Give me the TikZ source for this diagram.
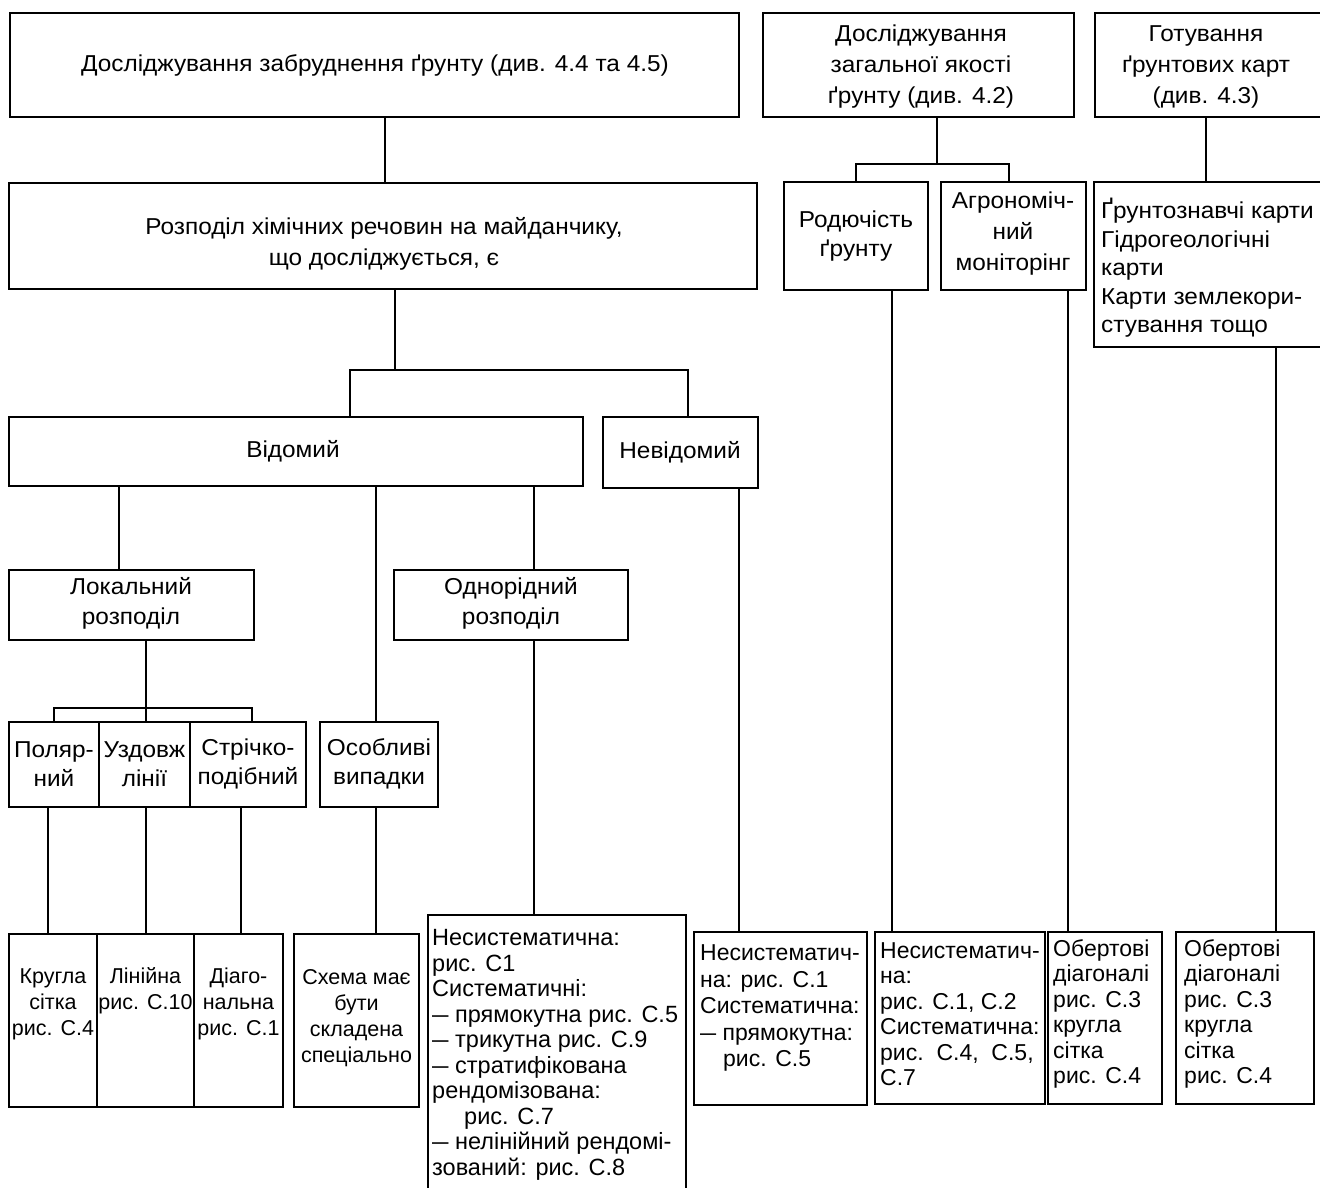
\documentclass[tikz,border=0pt]{standalone}
\usepackage{fontspec}
\setmainfont{Liberation Sans}
\newfontfamily\wide[FakeStretch=1.06]{Liberation Sans}
\usepackage{graphicx}
\usetikzlibrary{fit}
\newcommand\md{\scalebox{0.7}[1]{—}}
\newcommand\fw[1]{\wide\fontsize{23}{#1}\selectfont}
\newcommand\fn[2]{\fontsize{#1}{#2}\selectfont}
\tikzset{
 bx/.style={draw, line width=1.7pt, inner sep=0pt},
 ln/.style={line width=1.2pt},
 tc/.style={inner sep=0pt, align=center, font=\fw{30}},
 tl/.style={inner sep=0pt, align=left, anchor=west, font=\fn{23}{25.5}},
 tcs/.style={inner sep=0pt, align=center, font=\fn{21.5}{26}},
}
\begin{document}
\begin{tikzpicture}[x=1pt,y=-1pt]
\useasboundingbox (0,0) rectangle (1320,1187);
\clip (0,0) rectangle (1320,1187);
\fill[white] (0,0) rectangle (1320,1187);
% boxes
\node[bx, fit={(10,13) (739,117)}] (A) {};
\node[bx, fit={(763,13) (1074,117)}] (Q) {};
\node[bx, fit={(1095,13) (1326,117)}] (G) {};
\node[bx, fit={(9,183) (757,289)}] (B) {};
\node[bx, fit={(784,182) (928,290)}] (R) {};
\node[bx, fit={(941,182) (1086,290)}] (Ag) {};
\node[bx, fit={(1094,182) (1326,347)}] (K) {};
\node[bx, fit={(9,417) (583,486)}] (V) {};
\node[bx, fit={(603,417) (758,488)}] (N) {};
\node[bx, fit={(9,570) (254,640)}] (L) {};
\node[bx, fit={(394,570) (628,640)}] (O) {};
\node[bx, fit={(9,722) (99,807)}] (P1) {};
\node[bx, fit={(99,722) (190,807)}] (P2) {};
\node[bx, fit={(190,722) (306,807)}] (P3) {};
\node[bx, fit={(320,722) (438,807)}] (S) {};
\node[bx, fit={(9,934) (97,1107)}] (b1) {};
\node[bx, fit={(97,934) (194,1107)}] (b2) {};
\node[bx, fit={(194,934) (283,1107)}] (b3) {};
\node[bx, fit={(294,934) (419,1107)}] (b4) {};
\node[bx, fit={(428,915) (686,1196)}] (b5) {};
\node[bx, fit={(694,932) (867,1105)}] (b6) {};
\node[bx, fit={(875,932) (1045,1104)}] (b7) {};
\node[bx, fit={(1048,932) (1162,1104)}] (b8) {};
\node[bx, fit={(1176,932) (1314,1104)}] (b9) {};
% texts
\node[tc] (tA) at (375,65) {Досліджування забруднення ґрунту (див. 4.4 та 4.5)};
\node[tc, font=\fw{31}] (tQ) at (921,67) {Досліджування\\загальної якості\\ґрунту (див. 4.2)};
\node[tc, font=\fw{31}] (tG) at (1206,67) {Готування\\ґрунтових карт\\(див. 4.3)};
\node[tc, font=\fw{31}] (tB) at (384,244) {Розподіл хімічних речовин на майданчику,\\що досліджується, є};
\node[tc, font=\fw{29}] (tR) at (856,236) {Родючість\\ґрунту};
\node[tc, font=\fw{31}] (tAg) at (1013,234) {Агрономіч-\\ний\\моніторінг};
\node[tl, font=\fw{28.5}] (tK) at (1101,268) {Ґрунтознавчі карти\\Гідрогеологічні\\карти\\Карти землекори-\\стування тощо};
\node[tc] (tV) at (293,451) {Відомий};
\node[tc] (tN) at (680,452) {Невідомий};
\node[tc] (tL) at (131,603) {Локальний\\розподіл};
\node[tc] (tO) at (511,603) {Однорідний\\розподіл};
\node[tc, font=\fw{29}] (tP1) at (54,764) {Поляр-\\ний};
\node[tc, font=\fw{29}] (tP2) at (144.5,764) {Уздовж\\лінії};
\node[tc, font=\fw{29}] (tP3) at (248,764) {Стрічко-\\подібний};
\node[tc, font=\fw{29}] (tS) at (379,764) {Особливі\\випадки};
\node[tcs] (tb1) at (53,1004) {Кругла\\сітка\\рис. С.4};
\node[tcs] (tb2) at (145.5,991) {Лінійна\\рис. С.10};
\node[tcs] (tb3) at (238.5,1004) {Діаго-\\нальна\\рис. С.1};
\node[tcs] (tb4) at (356.5,1018) {Схема має\\бути\\складена\\спеціально};
\node[tl, font=\fn{23.5}{25.5}] (tb5) at (432,1055) {Несистематична:\\рис. С1\\Систематичні:\\\md{} прямокутна рис. С.5\\\md{} трикутна рис. С.9\\\md{} стратифікована\\рендомізована:\\\hspace*{32pt}рис. С.7\\\md{} нелінійний рендомі-\\зований: рис. С.8};
\node[tl, font=\fn{23}{26.5}] (tb6) at (700,1008) {Несистематич-\\на: рис. С.1\\Систематична:\\\md{} прямокутна:\\\hspace*{23pt}рис. С.5};
\node[tl] (tb7) at (880,1014) {Несистематич-\\на:\\рис. С.1, С.2\\Систематична:\\рис.\ \ С.4,\ \ С.5,\\С.7};
\node[tl] (tb8) at (1053,1014) {Обертові\\діагоналі\\рис. С.3\\кругла\\сітка\\рис. С.4};
\node[tl] (tb9) at (1184,1014) {Обертові\\діагоналі\\рис. С.3\\кругла\\сітка\\рис. С.4};
% connectors
\coordinate (xAB) at (385,0);
\draw[ln] (A.south -| xAB) -- (B.north -| xAB);
\coordinate (c1) at (395,370);
\coordinate (xV) at (350,0);
\coordinate (xN) at (688,0);
\draw[ln] (B.south -| c1) -- (c1);
\draw[ln] (V.north -| xV) -- (xV |- c1) -- (xN |- c1) -- (N.north -| xN);
\coordinate (c2) at (937,164);
\coordinate (xR) at (856,0);
\coordinate (xAg) at (1009,0);
\draw[ln] (Q.south -| c2) -- (c2);
\draw[ln] (R.north -| xR) -- (xR |- c2) -- (xAg |- c2) -- (Ag.north -| xAg);
\coordinate (xG) at (1206,0);
\draw[ln] (G.south -| xG) -- (K.north -| xG);
\coordinate (xR7) at (892,0);
\draw[ln] (R.south -| xR7) -- (b7.north -| xR7);
\coordinate (xAg8) at (1068,0);
\draw[ln] (Ag.south -| xAg8) -- (b8.north -| xAg8);
\coordinate (xK9) at (1276,0);
\draw[ln] (K.south -| xK9) -- (b9.north -| xK9);
\coordinate (xN6) at (739,0);
\draw[ln] (N.south -| xN6) -- (b6.north -| xN6);
\coordinate (xVL) at (119,0);
\draw[ln] (V.south -| xVL) -- (L.north -| xVL);
\coordinate (xVS) at (376,0);
\draw[ln] (V.south -| xVS) -- (S.north -| xVS);
\draw[ln] (S.south -| xVS) -- (b4.north -| xVS);
\coordinate (xVO) at (534,0);
\draw[ln] (V.south -| xVO) -- (O.north -| xVO);
\draw[ln] (O.south -| xVO) -- (b5.north -| xVO);
\coordinate (c3) at (146,708);
\draw[ln] (L.south -| c3) -- (P2.north -| c3);
\coordinate (xP1) at (54,0);
\coordinate (xP3) at (252,0);
\draw[ln] (P1.north -| xP1) -- (xP1 |- c3) -- (xP3 |- c3) -- (P3.north -| xP3);
\coordinate (x1) at (48,0);
\draw[ln] (P1.south -| x1) -- (b1.north -| x1);
\draw[ln] (P2.south -| c3) -- (b2.north -| c3);
\coordinate (x3) at (241,0);
\draw[ln] (P3.south -| x3) -- (b3.north -| x3);
\end{tikzpicture}
\end{document}
